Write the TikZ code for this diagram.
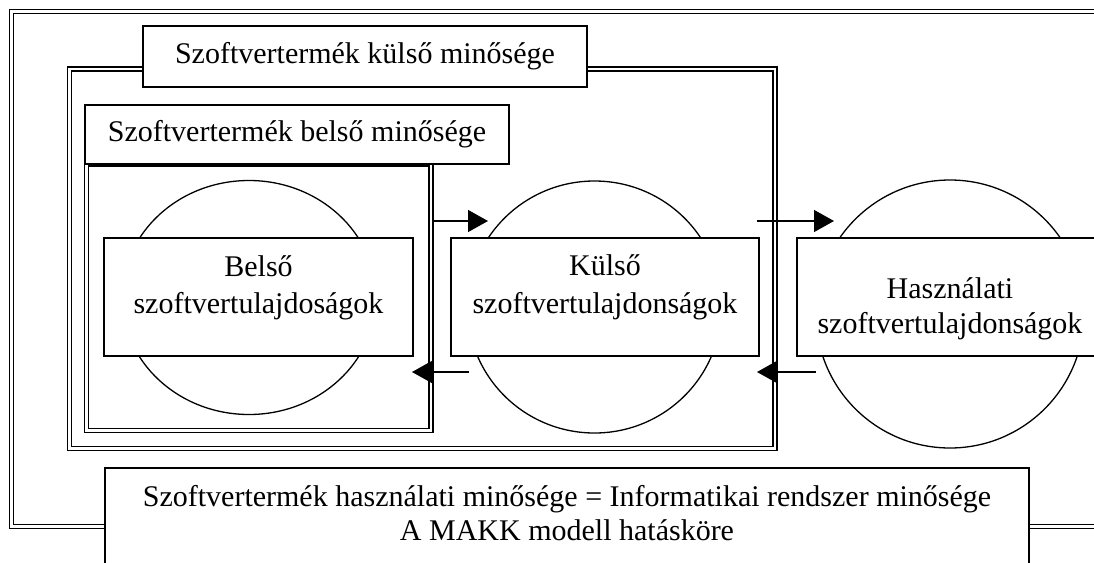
\documentclass[tikz,border=0pt]{standalone}
\usepackage{fontspec}
\setmainfont{Liberation Serif}
\usetikzlibrary{arrows.meta,shapes.geometric}
\begin{document}
\begin{tikzpicture}[x=0.5pt,y=-0.5pt,
  dbl/.style={draw, line width=0.7pt, double, double distance=1.3pt},
  box/.style={draw, line width=0.7pt, fill=white, inner sep=0pt, rectangle},
  lbl/.style={font=\fontsize{15pt}{18pt}\selectfont},
  txt/.style={font=\fontsize{15pt}{18pt}\selectfont, inner sep=0pt, anchor=base},
  circ/.style={draw, ellipse, line width=0.65pt, inner sep=0pt, fill=white},
  arr/.style={line width=0.7pt, -{Triangle[length=10pt,width=11pt]}}]
\clip (0,0) rectangle (1094,563);
\fill[white] (0,0) rectangle (1094,563);
% outer frame
\draw[dbl] (11.5,11.5) rectangle (1110,526.5);
% external quality frame
\draw[dbl] (69.5,69) rectangle (775,448.5);
\node[box, lbl, minimum width=222pt, minimum height=30.5pt] (t1) at (365,56.5) {Szoftvertermék külső minősége};
% internal quality frame
\draw[dbl] (86.5,164) rectangle (431,430.5);
\node[box, lbl, minimum width=212pt, minimum height=29.5pt] (t2) at (297,134.5) {Szoftvertermék belső minősége};
% circles
\node[circ, minimum width=127pt, minimum height=117pt] (c1) at (249,297.5) {};
\node[circ, minimum width=127pt, minimum height=126pt] (c2) at (594.5,307) {};
\node[circ, minimum width=134pt, minimum height=134pt] (c3) at (950,314) {};
% rectangles
\node[box, minimum width=154.5pt, minimum height=59pt] (r1) at (258.5,297) {};
\node[box, minimum width=154pt, minimum height=59pt] (r2) at (605,297) {};
\node[box, minimum width=153pt, minimum height=59pt] (r3) at (950,297) {};
\node[txt] (r1a) at (258.5,276) {Belső};
\node[txt] (r1b) at (258.5,313) {szoftvertulajdoságok};
\node[txt] (r2a) at (605,275) {Külső};
\node[txt] (r2b) at (605,313) {szoftvertulajdonságok};
\node[txt] (r3a) at (950,298) {Használati};
\node[txt] (r3b) at (950,333) {szoftvertulajdonságok};
% arrows
\coordinate (p1) at (433,221); \coordinate (q1) at (488,221);
\coordinate (p2) at (757,221); \coordinate (q2) at (834,221);
\coordinate (p3) at (469,372); \coordinate (q3) at (412,372);
\coordinate (p4) at (816,372); \coordinate (q4) at (757,372);
\draw[arr] (p1) -- (q1);
\draw[arr] (p2) -- (q2);
\draw[arr] (p3) -- (q3);
\draw[arr] (p4) -- (q4);
% bottom box
\node[box, minimum width=462pt, minimum height=66pt] (b) at (567,534) {};
\node[txt] (b1) at (567,506) {Szoftvertermék használati minősége = Informatikai rendszer minősége};
\node[txt] (b2) at (567,540) {A MAKK modell hatásköre};
\end{tikzpicture}
\end{document}
